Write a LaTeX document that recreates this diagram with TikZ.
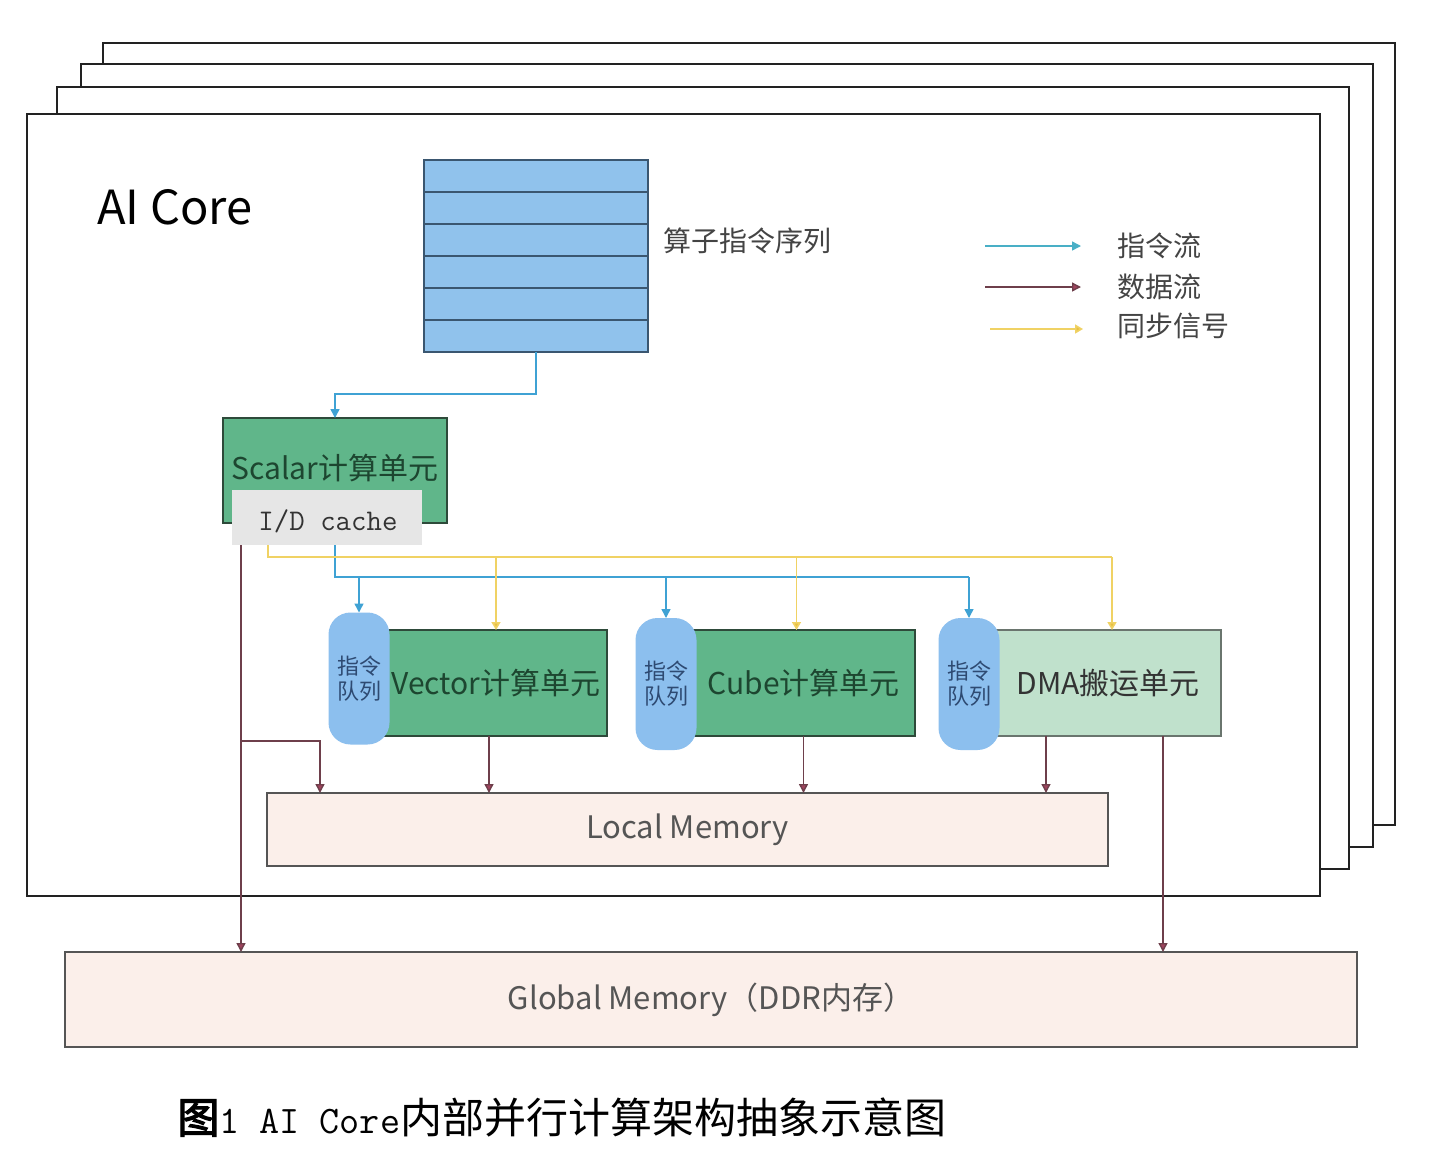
\documentclass[tikz,border=0pt]{standalone}
\usepackage{fontspec}
\setmainfont{Noto Sans CJK SC}
\newfontfamily\cjkbold[FakeBold=3]{Noto Sans CJK SC}
\usetikzlibrary{arrows.meta,calc}
\definecolor{frameC}{HTML}{222222}
\definecolor{seqF}{HTML}{90C2EC}
\definecolor{seqD}{HTML}{3A5670}
\definecolor{grnF}{HTML}{60B68A}
\definecolor{grnD}{HTML}{2E4A3A}
\definecolor{grnT}{HTML}{1D4630}
\definecolor{dmaF}{HTML}{C0E1CC}
\definecolor{dmaD}{HTML}{6A756E}
\definecolor{queF}{HTML}{8CBFEE}
\definecolor{queT}{HTML}{2E4A72}
\definecolor{idcF}{HTML}{E6E6E6}
\definecolor{memF}{HTML}{FBEFEA}
\definecolor{memD}{HTML}{555555}
\definecolor{memT}{HTML}{555555}
\definecolor{insC}{HTML}{3FA2D4}
\definecolor{legIns}{HTML}{49AFC6}
\definecolor{datC}{HTML}{6E3F4B}
\definecolor{datA}{HTML}{A0445E}
\definecolor{synC}{HTML}{F0D264}
\definecolor{synA}{HTML}{E8C040}
\definecolor{txtC}{HTML}{444444}
\begin{document}
\begin{tikzpicture}[x=0.5pt,y=-0.5pt,
  frame/.style={draw=frameC,line width=1.25pt,fill=white},
  box/.style={draw,line width=0.6pt,inner sep=0pt,outer sep=0pt},
  seqbox/.style={box,draw=seqD,fill=seqF,minimum width=112pt,minimum height=96pt},
  rowline/.style={draw=seqD,line width=0.6pt},
  unit/.style={box,draw=grnD,fill=grnF,text=grnT,font=\fontsize{15}{18}\selectfont},
  dmaunit/.style={box,draw=dmaD,fill=dmaF,text=black!80,font=\fontsize{15}{18}\selectfont},
  queue/.style={fill=queF,rounded corners=11pt,inner sep=0pt,outer sep=0pt,minimum width=30.5pt,minimum height=66pt,text=queT,align=center,font=\fontsize{11}{12.5}\selectfont},
  idcbox/.style={fill=idcF,inner sep=0pt,outer sep=0pt,minimum width=95pt,minimum height=27.5pt},
  mem/.style={box,draw=memD,fill=memF,text=memT,font=\fontsize{15.5}{18}\selectfont},
  lbl/.style={inner sep=0pt,text=txtC,font=\fontsize{14}{16}\selectfont},
  instr/.style={draw=insC,line width=0.75pt,-{Triangle[length=4.5pt,width=4.5pt]}},
  instrline/.style={draw=insC,line width=0.75pt},
  data/.style={draw=datC,line width=0.7pt,-{Triangle[length=4.5pt,width=4.5pt,fill=datA]}},
  sync/.style={draw=synC,line width=0.8pt,-{Triangle[length=4pt,width=4.5pt,fill=synA]}},
  syncline/.style={draw=synC,line width=0.8pt}
]
\useasboundingbox[fill=white] (0,0) rectangle (1436,1158);

% stacked frames
\draw[frame] (103,43) rectangle (1395,825);
\draw[frame] (81,64) rectangle (1373,847);
\draw[frame] (57,87) rectangle (1349,869);
\node[frame,minimum width=646.5pt,minimum height=391pt,inner sep=0pt] (core) at (673.5,505) {};

\node[anchor=west,inner sep=0pt,font=\fontsize{23.5}{26}\selectfont] (title) at (97,207) {AI Core};

% instruction sequence
\node[seqbox] (seq) at (536,256) {};
\foreach \k in {1,...,5}
  \draw[rowline] ($(seq.north west)!\k/6!(seq.south west)$) -- ($(seq.north east)!\k/6!(seq.south east)$);
\node[lbl,anchor=west] (seqlbl) at (663,241) {算子指令序列};

% legend
\coordinate (l1s) at (985,246); \coordinate (l1e) at (1081,246);
\coordinate (l2s) at (985,287); \coordinate (l2e) at (1081,287);
\coordinate (l3s) at (990,329); \coordinate (l3e) at (1083,329);
\draw[instr,draw=legIns,-{Triangle[length=4.5pt,width=4.5pt,fill=legIns]}] (l1s) -- (l1e);
\draw[data] (l2s) -- (l2e);
\draw[sync] (l3s) -- (l3e);
\node[lbl,anchor=west] (lg1) at (1117,246) {指令流};
\node[lbl,anchor=west] (lg2) at (1117,287) {数据流};
\node[lbl,anchor=west] (lg3) at (1117,326) {同步信号};

% scalar unit
\node[unit,minimum width=112pt,minimum height=52.5pt] (scalar) at (335,470.5) {};
\node[inner sep=0pt,text=grnT,font=\fontsize{15}{18}\selectfont] (scalart) at (335,468) {Scalar计算单元};
\node[idcbox] (idc) at (327,517.5) {};
\node[inner sep=0pt,text=black!80,font=\ttfamily\fontsize{15}{17}\selectfont] (idct) at (328,521) {I/D cache};

% compute units
\node[unit,minimum width=111pt,minimum height=53pt] (vec) at (496,683) {Vector计算单元};
\node[unit,minimum width=111.5pt,minimum height=53pt] (cube) at (803.5,683) {Cube计算单元};
\node[dmaunit,minimum width=113pt,minimum height=53pt] (dma) at (1108,683) {DMA搬运单元};

% queues
\node[queue] (vq) at (359,678.5) {指令\\队列};
\node[queue] (cq) at (666,684) {指令\\队列};
\node[queue] (dq) at (969,684) {指令\\队列};

% memories
\node[mem,minimum width=420.5pt,minimum height=36.5pt] (lm) at (687.5,829.5) {Local Memory};
\node[mem,minimum width=646pt,minimum height=47.5pt] (gm) at (711,999.5) {Global Memory（DDR内存）};

% instruction flow
\draw[instr] (seq.south) -- ++(0,42) -| (scalar.north);
\coordinate (ib) at (335,577);
\coordinate (ibe) at (969,577);
\draw[instrline] (idc.south -| ib) -- (ib) -- (ibe);
\draw[instr] (ib -| vq.north) -- (vq.north);
\draw[instr] (ib -| cq.north) -- (cq.north);
\draw[instr] (ibe) -- (dq.north);

% sync signal
\coordinate (sb) at ($(idc.south west)+(36,0)$);
\coordinate (sbb) at ($(sb)+(0,12)$);
\coordinate (s1) at (sbb -| vec.north);
\coordinate (s2) at ($(sbb -| cube.north)+(-7,0)$);
\coordinate (s3) at ($(sbb -| dma.north)+(4,0)$);
\draw[syncline] (sb) -- (sbb) -- (s3);
\draw[sync] (s1) -- (vec.north);
\draw[sync] (s2) -- (s2 |- cube.north);
\draw[sync] (s3) -- (s3 |- dma.north);

% data flow
\coordinate (v1) at ($(vec.south)+(-7,0)$);
\draw[data] (v1) -- (v1 |- lm.north);
\draw[data] (cube.south) -- (cube.south |- lm.north);
\coordinate (d1) at ($(dma.south)+(-62,0)$);
\coordinate (d2) at ($(dma.south)+(55,0)$);
\draw[data] (d1) -- (d1 |- lm.north);
\draw[data] (d2) -- (d2 |- gm.north);
\coordinate (g1) at ($(idc.south west)+(9,0)$);
\coordinate (g2) at ($(g1)+(0,196)$);
\coordinate (g3) at ($(lm.north west)+(53,0)$);
\draw[data] (g1) -- (g1 |- gm.north);
\draw[data] (g2) -| (g3);

% caption
\node[anchor=west,inner sep=0pt] (cap) at (177,1117)
  {{\cjkbold\fontsize{21}{25}\selectfont 图}{\ttfamily\fontsize{19.5}{22}\selectfont 1 AI Core}{\fontsize{21}{25}\selectfont 内部并行计算架构抽象示意图}};
\end{tikzpicture}
\end{document}
